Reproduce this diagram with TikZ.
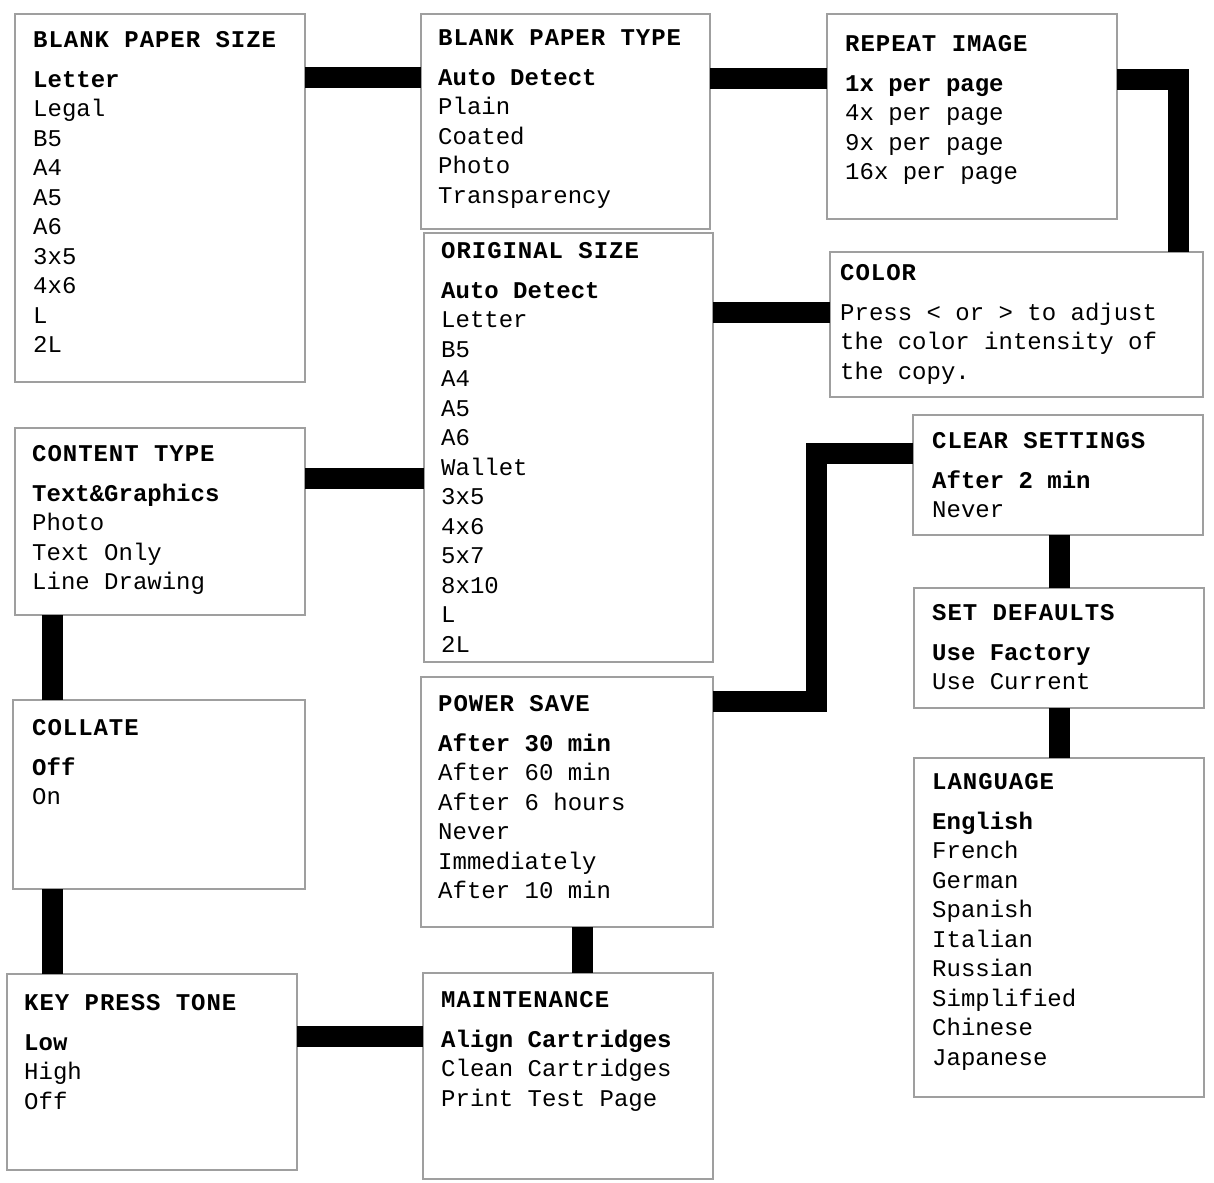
\documentclass[tikz,border=0pt]{standalone}
\usepackage{fontspec}
\setmonofont{Liberation Mono}
\newfontfamily\headfont[LetterSpace=4]{Liberation Mono}
\usetikzlibrary{positioning}

\tikzset{
  menubox/.style={draw=gray!75, line width=1.6pt, anchor=north west,
                  inner sep=0pt, outer sep=0pt},
  menutext/.style={anchor=north west, align=left, inner sep=0pt,
                   font=\ttfamily\fontsize{24}{29.5}\selectfont},
  link/.style={line width=21pt, black, line cap=butt}
}
\newcommand{\menuhead}[1]{{\headfont\bfseries #1}\\[10.5pt]}

\begin{document}
\begin{tikzpicture}[x=1pt, y=-1pt]
  \useasboundingbox (0,0) rectangle (1214,1182);

  % menu boxes
  \node[menubox, minimum width=290pt, minimum height=368pt] (bps) at (15,14) {};
  \node[menubox, minimum width=289pt, minimum height=215pt] (bpt) at (421,14) {};
  \node[menubox, minimum width=290pt, minimum height=205pt] (rep) at (827,14) {};
  \node[menubox, minimum width=373pt, minimum height=145pt] (color) at (830,252) {};
  \node[menubox, minimum width=289pt, minimum height=429pt] (orig) at (424,233) {};
  \node[menubox, minimum width=290pt, minimum height=187pt] (ct) at (15,428) {};
  \node[menubox, minimum width=290pt, minimum height=120pt] (cs) at (913,415) {};
  \node[menubox, minimum width=290pt, minimum height=120pt] (sd) at (914,588) {};
  \node[menubox, minimum width=290pt, minimum height=339pt] (lang) at (914,758) {};
  \node[menubox, minimum width=292pt, minimum height=189pt] (collate) at (13,700) {};
  \node[menubox, minimum width=292pt, minimum height=250pt] (ps) at (421,677) {};
  \node[menubox, minimum width=290pt, minimum height=196pt] (kp) at (7,974) {};
  \node[menubox, minimum width=290pt, minimum height=206pt] (maint) at (423,973) {};

  % menu texts
  \node[menutext] (bpstext) at ([shift={(18,17)}]bps.north west)
    {\menuhead{BLANK PAPER SIZE}\textbf{Letter}\\ Legal\\ B5\\ A4\\ A5\\ A6\\ 3x5\\ 4x6\\ L\\ 2L};
  \node[menutext] (bpttext) at ([shift={(17,15)}]bpt.north west)
    {\menuhead{BLANK PAPER TYPE}\textbf{Auto Detect}\\ Plain\\ Coated\\ Photo\\ Transparency};
  \node[menutext] (reptext) at ([shift={(18,21)}]rep.north west)
    {\menuhead{REPEAT IMAGE}\textbf{1x per page}\\ 4x per page\\ 9x per page\\ 16x per page};
  \node[menutext] (colortext) at ([shift={(10,12)}]color.north west)
    {\menuhead{COLOR}Press < or > to adjust\\ the color intensity of\\ the copy.};
  \node[menutext] (origtext) at ([shift={(17,9)}]orig.north west)
    {\menuhead{ORIGINAL SIZE}\textbf{Auto Detect}\\ Letter\\ B5\\ A4\\ A5\\ A6\\ Wallet\\ 3x5\\ 4x6\\ 5x7\\ 8x10\\ L\\ 2L};
  \node[menutext] (cttext) at ([shift={(17,17)}]ct.north west)
    {\menuhead{CONTENT TYPE}\textbf{Text\&Graphics}\\ Photo\\ Text Only\\ Line Drawing};
  \node[menutext] (cstext) at ([shift={(19,17)}]cs.north west)
    {\menuhead{CLEAR SETTINGS}\textbf{After 2 min}\\ Never};
  \node[menutext] (sdtext) at ([shift={(18,16)}]sd.north west)
    {\menuhead{SET DEFAULTS}\textbf{Use Factory}\\ Use Current};
  \node[menutext] (langtext) at ([shift={(18,15)}]lang.north west)
    {\menuhead{LANGUAGE}\textbf{English}\\ French\\ German\\ Spanish\\ Italian\\ Russian\\ Simplified\\ Chinese\\ Japanese};
  \node[menutext] (collatetext) at ([shift={(19,19)}]collate.north west)
    {\menuhead{COLLATE}\textbf{Off}\\ On};
  \node[menutext] (pstext) at ([shift={(17,18)}]ps.north west)
    {\menuhead{POWER SAVE}\textbf{After 30 min}\\ After 60 min\\ After 6 hours\\ Never\\ Immediately\\ After 10 min};
  \node[menutext] (kptext) at ([shift={(17,20)}]kp.north west)
    {\menuhead{KEY PRESS TONE}\textbf{Low}\\ High\\ Off};
  \node[menutext] (mainttext) at ([shift={(18,18)}]maint.north west)
    {\menuhead{MAINTENANCE}\textbf{Align Cartridges}\\ Clean Cartridges\\ Print Test Page};

  % connectors
  \draw[link] ([yshift=-64pt]bps.north east) -- ([yshift=-64pt]bpt.north west);
  \draw[link] ([yshift=-65pt]bpt.north east) -- ([yshift=-65pt]rep.north west);
  \draw[link] ([yshift=-66pt]rep.north east) -| ([xshift=-25pt]color.north east);
  \draw[link] ([yshift=-79pt]orig.north east) -- ([yshift=-60pt]color.north west);
  \draw[link] ([yshift=-50pt]ct.north east) -- ([yshift=-245pt]orig.north west);
  \draw[link] ([xshift=37pt]ct.south west) -- ([xshift=39pt]collate.north west);
  \draw[link] ([xshift=39pt]collate.south west) -- ([xshift=45pt]kp.north west);
  \draw[link] ([yshift=-62pt]kp.north east) -- ([yshift=-63pt]maint.north west);
  \draw[link] ([xshift=161pt]ps.south west) -- ([xshift=159pt]maint.north west);
  \draw[link] ([yshift=-24pt]ps.north east) -- ++(103,0) |- ([yshift=-38pt]cs.north west);
  \draw[link] ([xshift=146pt]cs.south west) -- ([xshift=145pt]sd.north west);
  \draw[link] ([xshift=145pt]sd.south west) -- ([xshift=145pt]lang.north west);
\end{tikzpicture}
\end{document}
